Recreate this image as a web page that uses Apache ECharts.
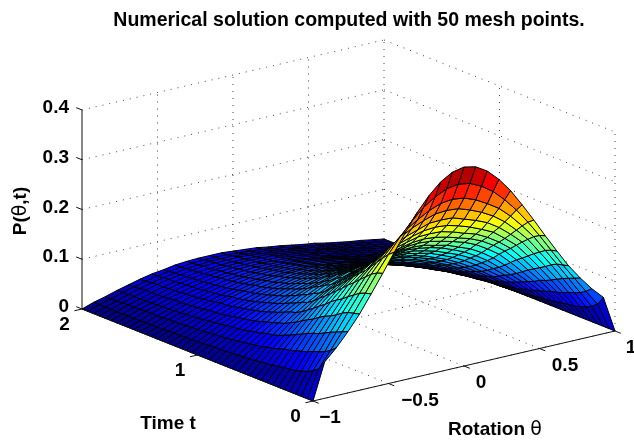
<!DOCTYPE html>
<html>
<head>
<meta charset="utf-8">
<title>Numerical solution</title>
<script src="https://cdn.jsdelivr.net/npm/echarts@6/dist/echarts.min.js"></script>
<style>
    html, body { margin: 0; padding: 0; background: #fff; }
    #main { width: 634px; height: 445px; }
</style>
</head>
<body>
<div id="main"></div>
<script>
// mesh
var theta = [-1, -0.923, -0.846, -0.769, -0.692, -0.615, -0.538, -0.462, -0.385, -0.308, -0.231, -0.154, -0.077, 0,
    0.077, 0.154, 0.231, 0.308, 0.385, 0.462, 0.538, 0.615, 0.692, 0.769, 0.846, 0.923, 1];
var time = [0, 0.05, 0.1, 0.15, 0.2, 0.25, 0.3, 0.35, 0.4, 0.45, 0.5, 0.55, 0.6, 0.65, 0.7, 0.75, 0.8, 0.85, 0.9, 0.95, 1,
    1.05, 1.1, 1.15, 1.2, 1.25, 1.3, 1.35, 1.4, 1.45, 1.5, 1.55, 1.6, 1.65, 1.7, 1.75, 1.8, 1.85, 1.9, 1.95, 2];
// P(theta,t) in thousandths, one row per time
var pRows = [
    [0,73,96,123,153,188,224,261,297,331,359,381,395,400,395,381,359,331,297,261,224,188,153,123,96,73,0],
    [0,55,86,118,150,185,220,252,282,308,330,346,357,361,357,346,330,308,282,252,220,185,150,118,86,55,0],
    [0,46,79,113,147,180,213,240,265,286,301,314,323,326,323,314,301,286,265,240,213,180,147,113,79,46,0],
    [0,40,74,108,141,172,203,227,249,266,279,289,297,299,297,289,279,266,249,227,203,172,141,108,74,40,0],
    [0,36,70,102,133,164,193,214,233,248,258,266,274,275,274,266,258,248,233,214,193,164,133,102,70,36,0],
    [0,32,65,96,126,155,182,201,219,230,240,248,254,256,254,248,240,230,219,201,182,155,126,96,65,32,0],
    [0,31,61,92,121,148,173,191,206,217,225,231,237,238,237,231,223,216,204,189,171,146,119,90,61,31,0],
    [0,29,58,87,114,140,162,180,193,203,211,216,221,223,221,216,209,202,192,178,161,138,112,86,58,29,0],
    [0,27,54,81,106,130,152,168,182,191,198,203,208,210,208,203,197,190,180,166,150,128,104,79,54,27,0],
    [0,25,52,76,100,122,142,157,170,180,187,192,196,197,196,190,185,176,167,154,138,118,96,74,50,25,0],
    [0,23,48,70,93,113,132,147,159,170,177,183,185,187,185,181,175,166,156,143,128,109,89,69,46,23,0],
    [0,22,44,65,86,105,123,137,149,159,165,171,175,176,175,170,164,155,146,134,119,102,83,64,43,22,0],
    [0,20,42,60,80,97,113,127,139,149,156,162,165,166,165,160,155,146,136,124,110,94,77,59,40,20,0],
    [0,23,46,68,89,109,127,143,157,168,177,184,187,188,187,182,175,164,153,139,123,105,85,66,44,23,0],
    [0,22,44,66,85,105,122,137,150,160,169,175,179,179,177,173,165,156,144,131,116,99,81,62,42,20,0],
    [0,21,42,62,81,100,116,130,143,152,161,166,170,170,168,164,157,148,137,124,110,94,77,58,40,19,0],
    [0,20,40,59,77,94,110,124,136,144,153,157,161,161,159,155,149,140,130,118,104,88,73,55,38,18,0],
    [0,19,38,56,73,90,105,118,129,137,145,150,153,153,151,148,141,133,123,112,99,84,69,52,36,17,0],
    [0,18,36,53,69,85,99,112,122,130,138,142,145,145,143,140,134,126,116,106,93,79,65,49,34,16,0],
    [0,18,34,51,66,81,95,106,117,124,131,135,138,138,136,133,127,120,111,100,89,75,62,47,32,16,0],
    [0,17,33,50,64,78,91,102,112,119,125,129,131,131,129,125,119,113,104,94,83,70,58,44,29,15,0],
    [0,16,32,47,61,74,86,97,106,113,119,122,124,124,122,118,113,107,98,89,78,66,55,41,28,14,0],
    [0,15,30,45,58,71,82,92,101,107,113,117,118,118,116,113,107,101,93,84,74,63,52,39,26,13,0],
    [0,14,29,43,55,68,78,88,96,102,108,111,112,112,110,107,102,96,88,80,70,60,49,37,25,12,0],
    [0,14,27,41,52,64,74,83,91,97,102,105,106,106,104,101,96,91,83,75,66,56,46,35,23,12,0],
    [0,13,26,39,50,61,71,80,87,92,97,100,101,101,99,96,91,86,79,72,63,53,44,33,22,11,0],
    [0,13,25,37,49,60,69,77,84,89,93,95,96,96,94,91,87,81,74,67,59,50,41,31,21,11,0],
    [0,12,24,35,46,57,65,73,80,85,88,90,91,91,89,86,82,77,70,63,55,47,38,29,20,10,0],
    [0,11,23,34,44,54,62,69,76,80,83,86,86,86,84,82,77,72,66,59,52,44,36,28,19,9,0],
    [0,11,22,32,42,52,59,66,72,77,80,82,82,82,80,78,74,69,62,56,49,42,34,26,18,9,0],
    [0,10,21,31,40,49,57,63,69,73,76,78,78,78,76,74,70,65,59,53,47,39,32,25,17,8,0],
    [0,10,20,29,38,47,54,60,66,69,72,74,74,74,72,70,66,61,56,50,44,37,30,23,16,8,0],
    [0,9,20,29,38,46,52,58,64,67,69,71,71,70,69,65,61,57,52,46,40,34,28,21,14,7,0],
    [0,9,19,27,36,43,50,55,60,63,66,67,67,66,65,61,58,53,48,43,38,31,26,19,13,7,0],
    [0,9,18,26,34,42,48,53,58,61,63,64,64,63,62,58,55,51,46,41,36,30,24,18,12,7,0],
    [0,8,17,25,33,40,46,51,55,58,60,61,61,60,59,55,52,48,43,39,34,28,23,17,11,6,0],
    [0,8,17,24,32,38,44,49,53,55,57,58,58,57,56,52,49,45,41,37,32,26,22,16,11,6,0],
    [0,8,16,24,31,38,43,47,51,54,55,55,56,54,52,49,45,42,37,33,29,24,19,14,10,4,0],
    [0,8,15,23,30,36,41,45,49,51,53,53,53,51,49,47,43,39,35,31,27,22,18,13,9,4,0],
    [0,8,14,22,28,34,39,43,46,49,50,50,50,48,46,44,40,37,32,29,25,20,16,12,8,4,0],
    [0,8,14,21,27,33,38,41,45,47,48,48,48,46,44,42,38,35,31,27,24,19,15,11,8,4,0]
];
// second reading of the colour bands: the later rows above came out a bit high
var rowTrim = [1, 1, 1, 1, 1, 1, 1, 1, 1, 1, 1, 1, 1, 0.83, 0.83, 0.82, 0.82, 0.81, 0.81, 0.8, 0.8,
    0.8, 0.8, 0.8, 0.81, 0.81, 0.82, 0.82, 0.83, 0.84, 0.85, 0.86, 0.87, 0.89, 0.9, 0.92, 0.93, 0.95, 0.96, 0.98, 1];
var thetaTicks = [-1, -0.5, 0, 0.5, 1];
var timeTicks = [0, 1, 2];
var pTicks = [0, 0.1, 0.2, 0.3, 0.4];
var thetaLabels = ['\u22121', '\u22120.5', '0', '0.5', '1'];
var timeLabels = ['0', '1', '2'];
var pLabels = ['0', '0.1', '0.2', '0.3', '0.4'];

var FONT = '"Liberation Sans", Arial, sans-serif';

// orthographic view of the box, in canvas pixels
function project(th, t, p) {
    var u = (th + 1) / 2, v = t / 2, w = p / 0.4;
    return [313 + 302 * u - 231 * v, 401 - 70 * u - 92 * v - 199 * w];
}

function jet(w) {
    function c(x) { return Math.round(255 * Math.max(0, Math.min(1, 1.5 - Math.abs(4 * w - x)))); }
    return 'rgb(' + c(3) + ',' + c(2) + ',' + c(1) + ')';
}

// cells from far corner to near corner
var cells = [];
for (var k = time.length - 2; k >= 0; k--) {
    for (var j = theta.length - 2; j >= 0; j--) {
        cells.push([j, k]);
    }
}

// frame segments: [th0, t0, p0, th1, t1, p1]
var dotted = [], solid = [];
pTicks.forEach(function (p) {
    dotted.push([-1, 2, p, 1, 2, p]);
    dotted.push([1, 2, p, 1, 0, p]);
});
thetaTicks.forEach(function (th) {
    dotted.push([th, 0, 0, th, 2, 0]);
    if (th > -1) dotted.push([th, 2, 0, th, 2, 0.4]);
});
timeTicks.forEach(function (t) {
    dotted.push([-1, t, 0, 1, t, 0]);
    if (t < 2) dotted.push([1, t, 0, 1, t, 0.4]);
});
solid.push([-1, 2, 0, -1, 2, 0.4]);
solid.push([-1, 0, 0, 1, 0, 0]);
solid.push([-1, 0, 0, -1, 2, 0]);
pTicks.forEach(function (p) { solid.push([-1, 2, p, -1, 2.05, p]); });
timeTicks.forEach(function (t) { solid.push([-1, t, 0, -1.05, t, 0]); });
thetaTicks.forEach(function (th) { solid.push([th, 0, 0, th, -0.05, 0]); });

function renderSegment(params, api, dash) {
    var a = project(api.value(0), api.value(1), api.value(2));
    var b = project(api.value(3), api.value(4), api.value(5));
    var p0 = api.coord(a), p1 = api.coord(b);
    return {
        type: 'line',
        shape: { x1: p0[0], y1: p0[1], x2: p1[0], y2: p1[1] },
        style: dash
            ? { stroke: '#444', lineWidth: 1, lineDash: [1, 6] }
            : { stroke: '#111', lineWidth: 1 }
    };
}

function renderCell(params, api) {
    var j = api.value(0), k = api.value(1);
    var corners = [[j, k], [j + 1, k], [j + 1, k + 1], [j, k + 1]];
    var sum = 0;
    var points = corners.map(function (c) {
        var p = pRows[c[1]][c[0]] * rowTrim[c[1]] / 1000;
        sum += p;
        return api.coord(project(theta[c[0]], time[c[1]], p));
    });
    return {
        type: 'polygon',
        shape: { points: points },
        style: { fill: jet(sum / 4 / 0.4), stroke: '#000', lineWidth: 1 }
    };
}

// text items: [text, x, y, align]
var texts = [];
pTicks.forEach(function (p, i) {
    var q = project(-1, 2, p);
    texts.push({ text: pLabels[i], x: 69, y: q[1] - 2, align: 'right' });
});
timeTicks.forEach(function (t, i) {
    var q = project(-1, t, 0);
    texts.push({ text: timeLabels[i], x: q[0] - 17.5, y: q[1] + 16, align: 'center' });
});
var thetaDx = [17, 31.5, 17, 25.5, 16];
thetaTicks.forEach(function (th, i) {
    var q = project(th, 0, 0);
    texts.push({ text: thetaLabels[i], x: q[0] + thetaDx[i], y: q[1] + 17, align: 'center' });
});

var chart = echarts.init(document.getElementById('main'), null, { renderer: 'canvas' });
chart.setOption({
    animation: false,
    title: {
        text: 'Numerical solution computed with 50 mesh points.',
        left: 344, top: 6, textAlign: 'center',
        textStyle: { fontFamily: FONT, fontSize: 19.5, fontWeight: 'bold', color: '#000' }
    },
    grid: { left: 0, right: 0, top: 0, bottom: 0 },
    xAxis: { type: 'value', min: 0, max: 634, show: false },
    yAxis: { type: 'value', min: 0, max: 445, inverse: true, show: false },
    series: [
        {
            type: 'custom', silent: true, z: 1, data: dotted,
            renderItem: function (params, api) { return renderSegment(params, api, true); }
        },
        { type: 'custom', silent: true, z: 2, data: cells, renderItem: renderCell },
        {
            type: 'custom', silent: true, z: 3, data: solid,
            renderItem: function (params, api) { return renderSegment(params, api, false); }
        },
        {
            type: 'custom', silent: true, z: 4,
            data: texts.map(function (d, i) { return [i]; }),
            renderItem: function (params, api) {
                var d = texts[api.value(0)];
                var q = api.coord([d.x, d.y]);
                return {
                    type: 'text',
                    x: q[0], y: q[1],
                    style: {
                        text: d.text, align: d.align, verticalAlign: 'middle', fill: '#000',
                        font: 'bold 19px ' + FONT
                    }
                };
            }
        },
        {
            type: 'custom', silent: true, z: 4,
            data: [[0], [1], [2]],
            renderItem: function (params, api) {
                var i = api.value(0);
                var rich = {
                    b: { fontFamily: FONT, fontWeight: 'bold', fontSize: 19, fill: '#000' },
                    s: { fontFamily: '"DejaVu Sans"', fontWeight: 'normal', fontSize: 19, fill: '#000' }
                };
                var items = [
                    { text: '{b|Time t}', x: 168, y: 424, rotation: 0 },
                    { text: '{b|Rotation }{s|\u03b8}', x: 495, y: 430, rotation: 0 },
                    { text: '{b|P(}{s|\u03b8}{b|,t)}', x: 21, y: 211, rotation: Math.PI / 2 }
                ];
                var d = items[i];
                var q = api.coord([d.x, d.y]);
                return {
                    type: 'text',
                    x: q[0], y: q[1], rotation: d.rotation,
                    style: { text: d.text, rich: rich, align: 'center', verticalAlign: 'middle' }
                };
            }
        }
    ]
});
</script>
</body>
</html>
